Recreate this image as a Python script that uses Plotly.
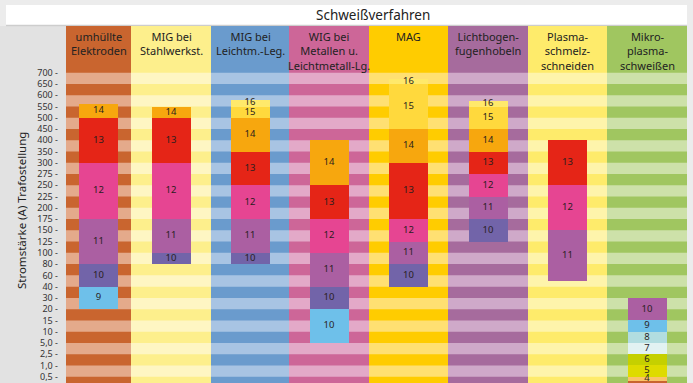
import numpy as np
import plotly.graph_objects as go

# Current scale (A), top to bottom, as printed on the axis
scale_labels = ["700", "650", "600", "550", "500", "450", "400", "350", "300",
                "275", "250", "225", "200", "175", "150", "125", "100", "80",
                "60", "40", "30", "20", "15", "10", "5,0", "2,5", "1,0", "0,5"]
scale_values = [700, 650, 600, 550, 500, 450, 400, 350, 300,
                275, 250, 225, 200, 175, 150, 125, 100, 80,
                60, 40, 30, 20, 15, 10, 5, 2.5, 1, 0.5]

processes = ["umhüllte<br>Elektroden", "MIG bei<br>Stahlwerkst.", "MIG bei<br>Leichtm.-Leg.",
             "WIG bei<br>Metallen u.<br>Leichtmetall-Lg.", "MAG", "Lichtbogen-<br>fugenhobeln",
             "Plasma-<br>schmelz-<br>schneiden", "Mikro-<br>plasma-<br>schweißen"]

# Protective shade number per current range (from A, to A)
umh_shade = ["9", "10", "11", "12", "13", "14"]
umh_from = [20, 40, 80, 175, 300, 500]
umh_to = [40, 80, 175, 300, 500, 560]

migst_shade = ["10", "11", "12", "13", "14"]
migst_from = [80, 100, 175, 300, 500]
migst_to = [100, 175, 300, 500, 550]

miglm_shade = ["10", "11", "12", "13", "14", "15", "16"]
miglm_from = [80, 100, 175, 250, 350, 500, 550]
miglm_to = [100, 175, 250, 350, 500, 550, 580]

wig_shade = ["10", "10", "11", "12", "13", "14"]
wig_from = [5, 20, 40, 100, 175, 250]
wig_to = [20, 40, 100, 175, 250, 400]

mag_shade = ["10", "11", "12", "13", "14", "15", "16"]
mag_from = [40, 80, 125, 175, 300, 450, 650]
mag_to = [80, 125, 175, 300, 450, 650, 670]

lfh_shade = ["10", "11", "12", "13", "14", "15", "16"]
lfh_from = [125, 175, 225, 275, 350, 450, 550]
lfh_to = [175, 225, 275, 350, 450, 550, 575]

plasma_shade = ["11", "12", "13"]
plasma_from = [50, 150, 250]
plasma_to = [150, 250, 400]

mikro_shade = ["3", "4", "5", "6", "7", "8", "9", "10"]
mikro_from = [0, 0.3, 0.5, 1, 2.5, 5, 10, 15]
mikro_to = [0.3, 0.5, 1, 2.5, 5, 10, 15, 30]

# ---- styling ----
palette = {
    "16": "#ffe96b", "15": "#ffd93d", "14": "#f7a70e", "13": "#e52517",
    "12": "#e64592", "11": "#ab5fa2", "10": "#7264a9", "9": "#6ec0ea",
    "8": "#b2dde0", "7": "#e2f2f2", "6": "#c5d000", "5": "#dedb00",
    "4": "#f9c468", "3": "#c8642f",
}
# (process, segment) printed in another colour than its shade's default
color_override = {(3, 0): palette["9"], (7, 7): palette["11"]}

col_dark = ["#c9652f", "#fdef8c", "#6a9bcd", "#cd6698", "#ffcc00", "#a66b9d", "#feeb6b", "#a0c660"]
col_light = ["#e4aa8b", "#fef6c3", "#a8c4e3", "#e3a9c8", "#ffe072", "#cfa9c9", "#fef4ab", "#cde1a9"]
col_widths = [65, 80, 78, 80, 79, 80, 79, 80]
bar_width = 39

edges = np.concatenate([[0], np.cumsum(col_widths)])
centers = (edges[:-1] + edges[1:]) / 2
total_w = float(edges[-1])

# Amps -> position on the printed scale (index of tick, 0 = 700 A);
# below 0,5 A the last step is continued.
xp = np.array(scale_values[::-1], dtype=float)
fp = np.arange(len(scale_values))[::-1].astype(float)


def pos(a):
    a = np.asarray(a, dtype=float)
    out = np.interp(a, xp, fp)
    low = a < xp[0]
    out[low] = fp[0] + (xp[0] - a[low]) / (xp[1] - xp[0]) * (fp[0] - fp[1])
    return out


series = [
    (umh_shade, umh_from, umh_to),
    (migst_shade, migst_from, migst_to),
    (miglm_shade, miglm_from, miglm_to),
    (wig_shade, wig_from, wig_to),
    (mag_shade, mag_from, mag_to),
    (lfh_shade, lfh_from, lfh_to),
    (plasma_shade, plasma_from, plasma_to),
    (mikro_shade, mikro_from, mikro_to),
]

n_ticks = len(scale_labels)
y_top, y_bottom = -4.15, 27.56

fig = go.Figure()
shapes = []

# column backgrounds: full dark column incl. header, light bands between ticks
for i in range(len(processes)):
    shapes.append(dict(type="rect", xref="x", yref="y", x0=edges[i], x1=edges[i + 1],
                       y0=y_top - 1, y1=n_ticks + 1, fillcolor=col_dark[i],
                       line=dict(width=0), layer="below"))
    for k in range(0, n_ticks - 1, 2):
        shapes.append(dict(type="rect", xref="x", yref="y", x0=edges[i], x1=edges[i + 1],
                           y0=k, y1=k + 1, fillcolor=col_light[i],
                           line=dict(width=0), layer="below"))

# frame panels
px_l = -66 / total_w
shapes.append(dict(type="rect", xref="paper", yref="paper", x0=px_l, x1=0, y0=0, y1=1,
                   fillcolor="#e2e2e2", line=dict(width=0), layer="below"))
shapes.append(dict(type="rect", xref="paper", yref="paper", x0=px_l + 6 / total_w, x1=1,
                   y0=1.0028, y1=1.0588, fillcolor="#ffffff", line=dict(width=0), layer="below"))
shapes.append(dict(type="line", xref="paper", yref="paper", x0=px_l + 6 / total_w, x1=1,
                   y0=1.0014, y1=1.0014, line=dict(color="#cdcdcd", width=1.5), layer="below"))

for i, (shade, lo, hi) in enumerate(series):
    top = pos(hi)
    bot = pos(lo)
    colors = [color_override.get((i, j), palette[s]) for j, s in enumerate(shade)]
    fig.add_trace(go.Bar(
        x=[centers[i]] * len(shade), base=top, y=bot - top, width=bar_width,
        marker=dict(color=colors, line=dict(width=0)),
        hoverinfo="skip", showlegend=False,
    ))
    mid = (top + bot) / 2
    shown = mid < y_bottom  # labels whose segment centre lies inside the plot
    fig.add_trace(go.Scatter(
        x=[centers[i]] * int(shown.sum()), y=mid[shown],
        text=[s for s, v in zip(shade, shown) if v], mode="text",
        textfont=dict(family="Noto Sans", size=9.5, color="#2a1e1e"),
        hoverinfo="skip", showlegend=False,
    ))

header_font = dict(family="Noto Sans", size=11, color="#222222")
annotations = []
for i, name in enumerate(processes):
    annotations.append(dict(x=centers[i], y=y_top + 0.1, xref="x", yref="y", text=name,
                            showarrow=False, xanchor="center", yanchor="top",
                            font=header_font))
annotations.append(dict(x=0.495, y=1.0308, xref="paper", yref="paper", text="Schweißverfahren",
                        showarrow=False, xanchor="center", yanchor="middle",
                        font=dict(family="Noto Sans", size=13.5, color="#222222")))
annotations.append(dict(x=(21.5 - 66) / total_w, y=0.483, xref="paper", yref="paper",
                        text="Stromstärke (A) Trafostellung", textangle=-90,
                        showarrow=False, xanchor="center", yanchor="middle",
                        font=dict(family="Noto Sans", size=11.5, color="#222222")))

fig.update_layout(
    width=693, height=383, autosize=False,
    margin=dict(l=66, r=6, t=26, b=0, pad=0),
    paper_bgcolor="#ececec", plot_bgcolor="#ececec",
    barmode="overlay", bargap=0,
    shapes=shapes, annotations=annotations,
    xaxis=dict(range=[0, total_w], visible=False, fixedrange=True),
    yaxis=dict(range=[y_bottom, y_top], tickmode="array", tickvals=list(range(n_ticks)),
               ticktext=[f"{t} -" for t in scale_labels], showgrid=False, zeroline=False,
               showline=False, ticks="", ticklabelstandoff=7,
               tickfont=dict(family="Noto Sans", size=9, color="#333333"), fixedrange=True),
)

fig.write_html("out.html")
